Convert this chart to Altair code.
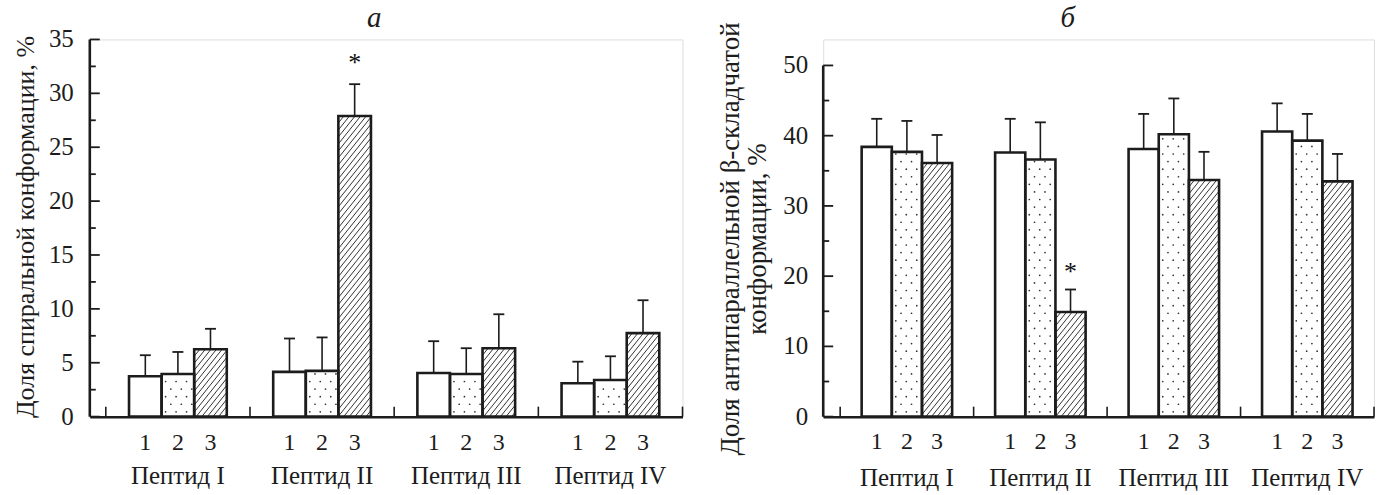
import altair as alt
import pandas as pd

# ---------------- data ----------------
peptides = ["Пептид I", "Пептид II", "Пептид III", "Пептид IV"]
series = ["1", "2", "3"]

# panel а: helical conformation, %
helix_mean = [[3.75, 3.95, 6.25], [4.15, 4.25, 27.9], [4.05, 3.95, 6.35], [3.1, 3.4, 7.75]]
helix_top = [[5.7, 6.0, 8.15], [7.25, 7.35, 30.85], [7.0, 6.35, 9.5], [5.1, 5.6, 10.8]]
helix_ticks = [0, 5, 10, 15, 20, 25, 30, 35]
helix_title = ["Доля спиральной конформации, %"]

# panel б: antiparallel beta-sheet conformation, %
beta_mean = [[38.4, 37.7, 36.1], [37.6, 36.6, 14.9], [38.1, 40.2, 33.7], [40.6, 39.3, 33.5]]
beta_top = [[42.4, 42.1, 40.1], [42.4, 41.9, 18.1], [43.1, 45.3, 37.7], [44.6, 43.1, 37.4]]
beta_ticks = [0, 10, 20, 30, 40, 50]
beta_title = ["Доля антипараллельной β-складчатой", "конформации, %"]

# significance marks (peptide index, series index)
star_a = [(1, 2)]
star_b = [(1, 2)]

INK = "#1c1c1c"
FONT = "Liberation Serif"
OFF = 0.161   # offset of first bar inside a peptide slot
BW = 0.226    # bar width in slot units


def panel(means, tops, stars, ticks, minor, W, H, xdom, ydom,
          ytitle, title_size, title_x, title_y, letter, letter_dx,
          label_x, lab1_y, lab2_y, star_dy):
    sx = W / (xdom[1] - xdom[0])
    sy = H / (ydom[1] - ydom[0])
    xs = alt.Scale(domain=xdom, nice=False, zero=False)
    ys = alt.Scale(domain=ydom, nice=False, zero=False)
    ytop = max(ticks)

    rows, hatch, dots = [], [], []
    for g, pep in enumerate(peptides):
        for k, s in enumerate(series):
            x0 = g + OFF + k * BW
            m = means[g][k]
            t = tops[g][k]
            rows.append(dict(pep=pep, ser=s, x0=x0, x1=x0 + BW, xc=x0 + BW / 2,
                             mean=m, top=t, base=0.0,
                             cl=x0 + BW / 2 - 5.5 / sx, cr=x0 + BW / 2 + 5.5 / sx))
            w = BW * sx
            h = m * sy
            if k == 2:  # diagonal hatch "/"
                slope = 1.25
                sp = 5.6
                c = -h / slope
                while c < w:
                    xa = max(c, 0.0)
                    xb = min(c + h / slope, w)
                    if xb > xa:
                        hatch.append(dict(xa=x0 + xa / sx, ya=slope * (xa - c) / sy,
                                          xb=x0 + xb / sx, yb=slope * (xb - c) / sy))
                    c += sp
            if k == 1:  # dotted fill
                dy_, dx_ = 7.6, 10.5
                j = 0
                py = dy_ / 2 + 1
                while py < h - 2:
                    px = 4 + (dx_ / 2 if j % 2 else 0)
                    while px < w - 2:
                        dots.append(dict(dx=x0 + px / sx, dy=py / sy))
                        px += dx_
                    py += dy_
                    j += 1
    bars = pd.DataFrame(rows)
    hatch = pd.DataFrame(hatch)
    dots = pd.DataFrame(dots)

    xaxis = alt.Axis(labels=False, ticks=False, grid=False, domain=True,
                     domainWidth=2.5, domainColor=INK, title="")

    def X(f):
        return alt.X(f, scale=xs, axis=xaxis)

    def Y(f):
        return alt.Y(f, scale=ys, axis=None)

    base_fill = alt.Chart(bars).mark_rect(fill="white").encode(
        x=X("x0:Q"), x2="x1:Q", y=Y("mean:Q"), y2="base:Q")
    hatch_l = alt.Chart(hatch).mark_rule(color="#333333", strokeWidth=1).encode(
        x=X("xa:Q"), y=Y("ya:Q"), x2="xb:Q", y2="yb:Q")
    dots_l = alt.Chart(dots).mark_circle(color="#333333", size=3, opacity=1).encode(
        x=X("dx:Q"), y=Y("dy:Q"))
    outline = alt.Chart(bars).mark_rect(fill="white", fillOpacity=0, stroke=INK,
                                        strokeWidth=2.6).encode(
        x=X("x0:Q"), x2="x1:Q", y=Y("mean:Q"), y2="base:Q")
    err = alt.Chart(bars).mark_rule(color=INK, strokeWidth=1.6).encode(
        x=X("xc:Q"), y=Y("mean:Q"), y2="top:Q")
    cap = alt.Chart(bars).mark_rule(color=INK, strokeWidth=1.8).encode(
        x=X("cl:Q"), x2="cr:Q", y=Y("top:Q"))

    bnd = pd.DataFrame(dict(b=[0, 1, 2, 3, 4]))
    xt = alt.Chart(bnd).mark_rule(color=INK, strokeWidth=1.6).encode(
        x=X("b:Q"), y=alt.value(H), y2=alt.value(H - 10))

    yl = alt.Chart(pd.DataFrame(dict(a=[0.0], b=[float(ytop)]))).mark_rule(
        color=INK, strokeWidth=2.6).encode(
        x=alt.value(0), y=Y("a:Q"), y2="b:Q")
    minv = [v + minor for v in ticks if v + minor < ytop]
    tdf = pd.DataFrame(dict(v=ticks, lab=[str(v) for v in ticks]))
    ytm = alt.Chart(tdf).mark_rule(color=INK, strokeWidth=1.8).encode(
        x=alt.value(0), x2=alt.value(10), y=Y("v:Q"))
    ytn = alt.Chart(pd.DataFrame(dict(v=minv))).mark_rule(color=INK, strokeWidth=1.8).encode(
        x=alt.value(0), x2=alt.value(6), y=Y("v:Q"))
    ylab = alt.Chart(tdf).mark_text(font=FONT, fontSize=25, color=INK, align="right",
                                    baseline="middle").encode(
        x=alt.value(label_x), y=Y("v:Q"), text="lab:N")

    title_layers = []
    n = len(ytitle)
    for i, line in enumerate(ytitle):
        xpos = title_x - (n - 1 - i) * 27
        title_layers.append(
            alt.Chart(pd.DataFrame(dict(t=[line]))).mark_text(
                font=FONT, fontSize=title_size, color=INK, angle=270, align="center",
                baseline="middle").encode(
                x=alt.value(xpos), y=alt.value(title_y), text="t:N"))

    ser_l = alt.Chart(bars).mark_text(font=FONT, fontSize=24, color=INK,
                                      baseline="middle").encode(
        x=X("xc:Q"), y=alt.value(H + lab1_y), text="ser:N")
    grp = pd.DataFrame(dict(pep=peptides, gc=[g + 0.5 for g in range(len(peptides))]))
    grp_l = alt.Chart(grp).mark_text(font=FONT, fontSize=25, color=INK,
                                     baseline="middle").encode(
        x=X("gc:Q"), y=alt.value(H + lab2_y), text="pep:N")

    sdf = bars.iloc[[g * 3 + k for g, k in stars]].copy()
    sdf["s"] = "*"
    star_l = alt.Chart(sdf).mark_text(font=FONT, fontSize=26, color="#111111",
                                      baseline="alphabetic", dy=star_dy).encode(
        x=X("xc:Q"), y=Y("top:Q"), text="s:N")
    let_l = alt.Chart(pd.DataFrame(dict(t=[letter]))).mark_text(
        font=FONT, fontSize=29, fontStyle="italic", color=INK, baseline="middle").encode(
        x=alt.value(W / 2 + letter_dx), y=alt.value(-21), text="t:N")

    return alt.layer(base_fill, hatch_l, dots_l, outline, err, cap, xt, yl, ytm, ytn,
                     ylab, *title_layers, ser_l, grp_l, star_l, let_l
                     ).properties(width=W, height=H)


left = panel(helix_mean, helix_top, star_a, helix_ticks, 2.5, 594, 378,
             [-0.111, 4.0], [0, 35], helix_title, 26, -64, 188, "а", -12,
             -16, 26, 60, -13)
right = panel(beta_mean, beta_top, star_b, beta_ticks, 5, 552, 378,
              [-0.127, 4.0], [0, 53.7], beta_title, 27, -65, 200, "б", -31,
              -15, 25, 62, -10)

chart = alt.hconcat(left, right, spacing=32).properties(
    padding={"left": 12, "right": 8, "top": 3, "bottom": 2}
).configure_view(strokeWidth=0).configure(background="white", font=FONT)

chart.save("out.html", embed_options={"renderer": "svg", "actions": False})
